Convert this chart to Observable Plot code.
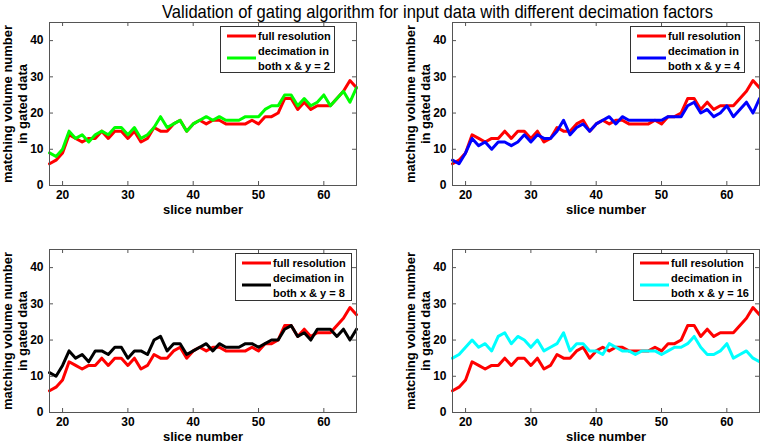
<!DOCTYPE html>
<html><head><meta charset="utf-8">
<script src="https://cdn.jsdelivr.net/npm/d3@7"></script>
<script src="https://cdn.jsdelivr.net/npm/@observablehq/plot@0.6"></script>
<style>
body{margin:0;background:#fff;}
#root{position:relative;width:760px;height:441px;overflow:hidden;font-family:"Liberation Sans",Arial,sans-serif;}
.panel{position:absolute;}
.panel svg{overflow:visible;}
.legend{position:absolute;background:#fff;border:1px solid #333;box-sizing:border-box;}
.legend svg{position:absolute;left:0;top:0;}
</style></head><body><div id="root"></div>
<script>
// ---- data ----
const titleText = "Validation of gating algorithm for input data with different decimation factors";
const slices = [18,19,20,21,22,23,24,25,26,27,28,29,30,31,32,33,34,35,36,37,38,39,40,41,42,43,44,45,46,47,48,49,50,51,52,53,54,55,56,57,58,59,60,61,62,63,64,65];
const fullRes = [6,7,9,14,13,12,13,13,15,13,15,15,13,15,12,13,16,15,15,17,18,15,17,18,17,18,18,17,17,17,17,18,17,19,19,20,24,24,21,23,21,22,22,22,24,26,29,27];
const dec2  = [9,8,10,15,13,14,12,14,15,14,16,16,14,16,13,14,16,19,16,17,18,15,17,18,19,18,19,18,18,18,19,19,19,21,22,22,25,25,22,24,22,23,25,22,24,26,23,27];
const dec4  = [7,6,9,13,11,12,10,12,12,11,12,14,12,14,13,13,15,18,14,16,17,15,17,18,19,17,19,18,18,18,18,18,18,19,19,19,22,23,20,21,19,20,22,19,21,23,20,24];
const dec8  = [11,10,13,17,15,16,14,17,17,16,18,18,15,17,17,16,20,21,17,19,19,16,17,18,19,17,19,18,18,18,19,19,18,19,20,20,23,24,21,22,20,23,23,23,21,23,20,23];
const dec16 = [15,16,18,20,18,19,17,21,22,19,21,20,18,20,17,18,19,22,17,19,19,17,17,16,19,18,17,17,16,17,17,17,16,17,18,18,19,21,18,16,16,17,19,15,16,17,15,14];
const xTicks = [20,30,40,50,60];
const yTicks = [0,10,20,30,40];
const xLabel = "slice number";
const yLabel = "matching volume number\nin gated data";
const fullLabel = "full resolution";
const decLabel1 = "decimation in";
const decLabels = ["both x & y = 2","both x & y = 4","both x & y = 8","both x & y = 16"];

// ---- layout ----
const root = document.getElementById("root");
const FW = 307, FH = 163;
const panels = [
  {series: dec2,  color: "#00ff00", left: 0,   top: 0,   ml: 49, height: 227, lab: decLabels[0], lg: {l: 220, t: 26, w: 115, h: 47}},
  {series: dec4,  color: "#0000ff", left: 380, top: 0,   ml: 72, height: 227, lab: decLabels[1], lg: {l: 630, t: 26, w: 115, h: 47}},
  {series: dec8,  color: "#000000", left: 0,   top: 227, ml: 49, height: 214, lab: decLabels[2], lg: {l: 235, t: 253, w: 117, h: 48}},
  {series: dec16, color: "#00ffff", left: 380, top: 227, ml: 72, height: 214, lab: decLabels[3], lg: {l: 633, t: 253, w: 121, h: 48}}
];

for (const p of panels) {
  const rows = slices.map((s, i) => ({slice: s, full: fullRes[i], dec: p.series[i]}));
  const chart = Plot.plot({
    width: 380, height: p.height,
    marginLeft: p.ml, marginRight: 380 - p.ml - FW,
    marginTop: 22, marginBottom: p.height - 22 - FH,
    x: {domain: [18, 65], ticks: xTicks, tickSize: 0, tickPadding: 5, label: null},
    y: {domain: [0, 45], ticks: yTicks, tickSize: 0, tickPadding: 6, label: null},
    style: {fontFamily: "Liberation Sans, Arial, sans-serif", fontSize: "12px", fontWeight: "bold", color: "#000", background: "transparent"},
    marks: [
      Plot.line(rows, {x: "slice", y: "full", stroke: "#ff0000", strokeWidth: 3}),
      Plot.line(rows, {x: "slice", y: "dec", stroke: p.color, strokeWidth: 3}),
      Plot.tickX(xTicks, {x: d => d, insetTop: FH - 4, stroke: "#555"}),
      Plot.tickX(xTicks, {x: d => d, insetBottom: FH - 4, stroke: "#555"}),
      Plot.tickY(yTicks, {y: d => d, insetRight: FW - 4, stroke: "#555"}),
      Plot.tickY(yTicks, {y: d => d, insetLeft: FW - 4, stroke: "#555"}),
      Plot.frame({stroke: "#555"}),
      Plot.text([xLabel], {text: d => d, frameAnchor: "bottom", textAnchor: "middle", dy: 19, lineAnchor: "top", fontSize: 13, fill: "#000"}),
      Plot.text([yLabel], {text: d => d, frameAnchor: "left", textAnchor: "middle", lineAnchor: "middle", rotate: -90, dx: -34.5, fontSize: 13, lineHeight: 1.15, fill: "#000"})
    ]
  });
  const d = document.createElement("div");
  d.className = "panel";
  d.style.left = p.left + "px"; d.style.top = p.top + "px";
  d.appendChild(chart);
  root.appendChild(d);

  const lg = document.createElement("div");
  lg.className = "legend";
  Object.assign(lg.style, {left: p.lg.l + "px", top: p.lg.t + "px", width: p.lg.w + "px", height: p.lg.h + "px"});
  lg.innerHTML = `<svg width="${p.lg.w}" height="${p.lg.h}" font-family="Liberation Sans, Arial, sans-serif" font-size="11" font-weight="bold">
    <line x1="6" x2="35" y1="9" y2="9" stroke="#ff0000" stroke-width="3"/>
    <text x="37" y="9" dy="0.35em">${fullLabel}</text>
    <line x1="6" x2="35" y1="31" y2="31" stroke="${p.color}" stroke-width="3"/>
    <text x="37" y="24.5" dy="0.35em">${decLabel1}</text>
    <text x="37" y="39" dy="0.35em">${p.lab.replace("&","&amp;")}</text>
  </svg>`;
  root.appendChild(lg);
}

// title (drawn last so it sits on top)
const tdiv = document.createElement("div");
tdiv.className = "panel";
tdiv.style.left = "0px"; tdiv.style.top = "0px";
tdiv.innerHTML = `<svg width="760" height="24"><text x="437.5" y="18" text-anchor="middle" font-family="Liberation Sans, Arial, sans-serif" font-size="19" textLength="551" lengthAdjust="spacingAndGlyphs">${titleText}</text></svg>`;
root.appendChild(tdiv);
</script>
</body></html>
